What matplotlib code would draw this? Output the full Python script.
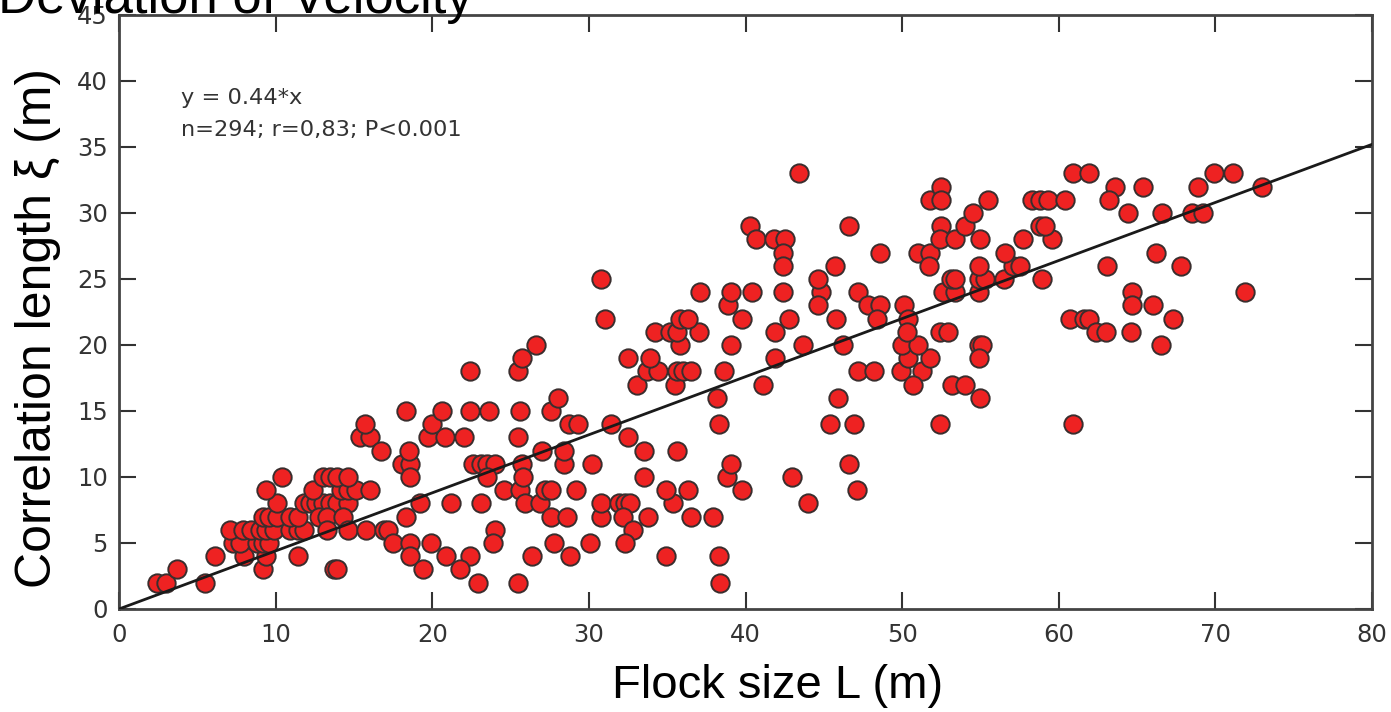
import matplotlib
matplotlib.use("Agg")
import matplotlib.pyplot as plt
import numpy as np

# Flock size L (m) and correlation length xi (m) for each flock
flock_size = [
    2.4, 3.0, 5.5, 3.7, 9.2, 6.1, 8.0, 9.4, 11.4,
    7.3, 7.7, 8.8, 9.2, 9.6,
    7.1, 7.9, 8.4, 9.0, 9.4, 9.9, 10.9, 11.4, 11.8,
    9.2, 9.6, 10.1, 10.9, 11.4,
    10.1, 11.8, 9.4, 10.4,
    12.2, 12.6, 13.0, 13.5, 13.9, 14.6,
    12.8, 13.3, 14.3,
    12.4, 14.2, 14.6, 15.1, 16.0,
    13.0, 13.5, 13.9, 14.6,
    13.3, 14.6, 15.8, 16.9, 17.2,
    13.7, 13.9, 15.4, 16.0, 15.7, 16.7,
    17.5, 18.6, 19.9, 18.6, 20.9, 22.4, 19.4, 21.8, 22.9, 25.5,
    18.3, 19.2, 21.2, 23.1, 24.0, 23.9,
    18.1, 18.6, 22.6, 23.1, 23.5, 24.0,
    18.5, 18.6, 23.5,
    19.7, 20.8, 22.0, 25.5,
    20.0, 18.3, 20.6, 22.4, 23.6, 25.6,
    22.4, 25.5, 25.7, 26.6,
    24.6, 25.6,
    25.9, 26.9, 27.2, 27.6, 29.2,
    25.7, 28.4, 30.2, 25.8,
    27.0, 28.4, 27.6, 28.0,
    28.7, 29.3, 31.4,
    27.6, 28.6, 30.8,
    27.8, 30.1, 26.4, 28.8,
    30.8, 31.0,
    30.8, 31.9, 32.3, 32.6,
    32.2, 33.8, 36.5, 37.9,
    32.8, 32.3, 34.9, 38.3, 38.4, 35.4,
    34.9, 36.3, 33.5, 38.8,
    33.5, 35.6, 32.5, 38.3, 38.2,
    33.1, 35.5,
    33.7, 34.4, 35.6, 36.0, 36.5, 38.6,
    32.5, 33.9, 35.8,
    34.2, 35.2, 35.6, 37.0,
    35.8, 36.3, 37.1, 38.9,
    39.8, 39.1, 39.1, 39.1,
    39.8, 40.4, 42.4, 44.8,
    43.0, 44.0,
    41.1, 41.9, 41.9, 42.8, 43.7, 44.6, 45.8,
    40.3, 40.7, 41.8, 42.5, 42.4, 42.4,
    43.4, 44.6, 45.7, 46.6,
    45.4, 46.9, 45.9, 46.6, 47.1, 46.2,
    47.2, 47.8, 48.6, 50.1,
    48.4, 50.4,
    48.6, 51.0, 51.8, 51.7,
    47.2, 48.2, 49.9, 51.3,
    50.7, 50.4, 51.8, 50.0, 51.0, 50.3, 51.8,
    52.5, 52.5, 52.5, 52.4, 52.4, 52.9, 52.4,
    52.6, 53.4, 54.9,
    53.1, 53.4, 54.9, 55.3, 56.5, 58.9,
    54.9, 57.1, 57.5, 56.6,
    53.4, 55.0, 57.7, 59.6,
    54.0, 58.8, 59.1, 54.5,
    55.5, 58.3, 58.8, 59.3, 60.4,
    54.9, 55.1, 54.9, 53.2, 54.0, 55.0,
    60.9, 61.9, 69.9, 71.1,
    63.6, 65.4, 68.9, 73.0,
    63.2, 64.4, 66.6, 68.5, 69.2,
    66.2, 63.1, 67.8,
    64.7, 71.9, 64.7, 66.0,
    60.7, 61.6, 61.9, 67.3,
    62.4, 63.0, 64.6, 66.5, 60.9,
]
corr_length = [
    2, 2, 2, 3, 3, 4, 4, 4, 4,
    5, 5, 5, 5, 5,
    6, 6, 6, 6, 6, 6, 6, 6, 6,
    7, 7, 7, 7, 7,
    8, 8, 9, 10,
    8, 8, 8, 8, 8, 8,
    7, 7, 7,
    9, 9, 9, 9, 9,
    10, 10, 10, 10,
    6, 6, 6, 6, 6,
    3, 3, 13, 13, 14, 12,
    5, 5, 5, 4, 4, 4, 3, 3, 2, 2,
    7, 8, 8, 8, 6, 5,
    11, 11, 11, 11, 11, 11,
    12, 10, 10,
    13, 13, 13, 13,
    14, 15, 15, 15, 15, 15,
    18, 18, 19, 20,
    9, 9,
    8, 8, 9, 9, 9,
    11, 11, 11, 10,
    12, 12, 15, 16,
    14, 14, 14,
    7, 7, 7,
    5, 5, 4, 4,
    25, 22,
    8, 8, 8, 8,
    7, 7, 7, 7,
    6, 5, 4, 4, 2, 8,
    9, 9, 10, 10,
    12, 12, 13, 14, 16,
    17, 17,
    18, 18, 18, 18, 18, 18,
    19, 19, 20,
    21, 21, 21, 21,
    22, 22, 24, 23,
    9, 11, 20, 24,
    22, 24, 24, 24,
    10, 8,
    17, 19, 21, 22, 20, 23, 22,
    29, 28, 28, 28, 27, 26,
    33, 25, 26, 29,
    14, 14, 16, 11, 9, 20,
    24, 23, 23, 23,
    22, 22,
    27, 27, 27, 26,
    18, 18, 18, 18,
    17, 19, 19, 20, 20, 21, 31,
    32, 31, 29, 28, 21, 21, 14,
    24, 24, 24,
    25, 25, 25, 25, 25, 25,
    26, 26, 26, 27,
    28, 28, 28, 28,
    29, 29, 29, 30,
    31, 31, 31, 31, 31,
    20, 20, 19, 17, 17, 16,
    33, 33, 33, 33,
    32, 32, 32, 32,
    31, 30, 30, 30, 30,
    27, 26, 26,
    24, 24, 23, 23,
    22, 22, 22, 22,
    21, 21, 21, 20, 14,
]
slope = 0.44
x_ticks = [0, 10, 20, 30, 40, 50, 60, 70, 80]
y_ticks = [0, 5, 10, 15, 20, 25, 30, 35, 40, 45]

tick_color = "#333333"
fig = plt.figure(figsize=(13.91, 7.12), dpi=100)
ax = fig.add_axes([119 / 1391, 1 - 609 / 712, 1253 / 1391, 594 / 712])

ax.scatter(flock_size, corr_length, s=175, facecolor="#ee2222",
           edgecolor="#3a2e2e", linewidth=1.4, zorder=3)

fit_x = np.array([0, 80])
ax.plot(fit_x, slope * fit_x, color="#1a1a1a", linewidth=2.0, zorder=4)

ax.set_xlim(0, 80)
ax.set_ylim(0, 45)
ax.set_xticks(x_ticks)
ax.set_yticks(y_ticks)
ax.tick_params(direction="in", length=12, width=1.5, color="#333333",
               top=True, right=True, labelsize=17.5, labelcolor=tick_color)
ax.tick_params(axis="x", pad=10)
ax.tick_params(axis="y", pad=8)
for lab in ax.get_xticklabels() + ax.get_yticklabels():
    lab.set_family("DejaVu Sans")
for sp in ax.spines.values():
    sp.set_color("#444444")
    sp.set_linewidth(2.0)

ax.text(0.0495, 0.860, "y = 0.44*x", transform=ax.transAxes, fontsize=16.2,
        family="DejaVu Sans", color="#333333", va="center")
ax.text(0.0495, 0.806, "n=294; r=0,83; P<0.001", transform=ax.transAxes,
        fontsize=16.2, family="DejaVu Sans", color="#333333", va="center")

fig.text(778 / 1391, 1 - 686 / 712, "Flock size L (m)", fontsize=34,
         family="Liberation Sans", ha="center", va="center")
fig.text(38 / 1391, 1 - 328 / 712, "Correlation length \u03be (m)", fontsize=36,
         family="Liberation Sans", rotation=90, ha="center", va="center")
fig.text(-2 / 1391, 1 - 13 / 712, "Deviation of Velocity", fontsize=38,
         family="Liberation Sans", ha="left", va="baseline")

fig.savefig("out.png", dpi=100)
